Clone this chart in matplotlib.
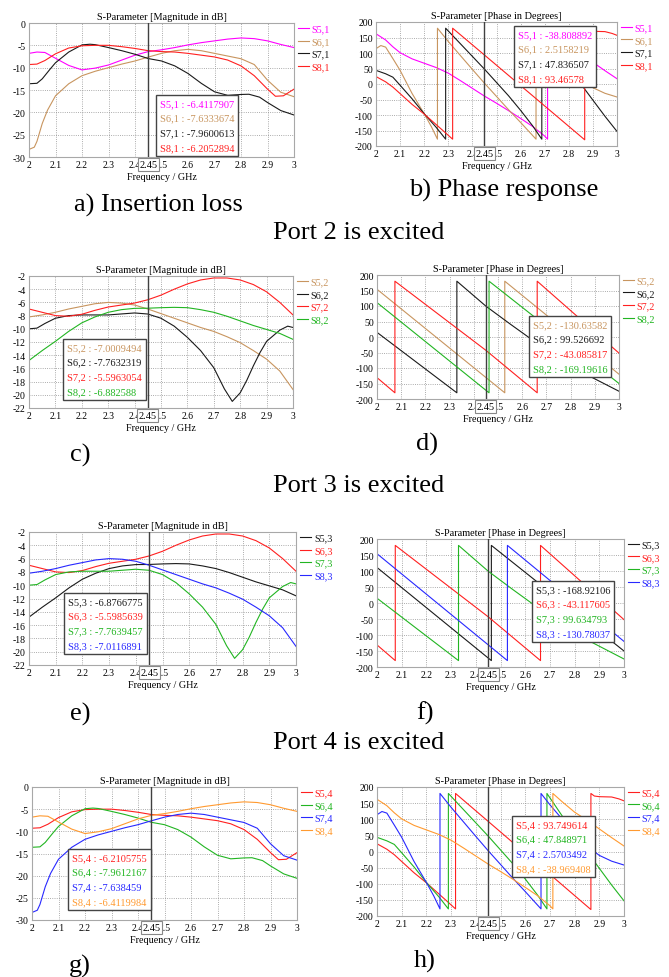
import matplotlib
matplotlib.use("Agg")
import matplotlib.pyplot as plt
from matplotlib.offsetbox import TextArea, VPacker, AnchoredOffsetbox

plt.rcParams["font.family"] = ["Liberation Serif", "DejaVu Serif"]
plt.rcParams["axes.unicode_minus"] = False

# --- colours ---
MAG = "#ff00ff"
TAN = "#c8955f"
BLK = "#1a1a1a"
RED = "#ff2020"
GRN = "#22b522"
BLU = "#2828ff"
ORG = "#ff9a30"

# --- magnitude curves (dB) ---
mA_f = [2.0, 2.03, 2.06, 2.1, 2.15, 2.2, 2.25, 2.3, 2.35, 2.4, 2.45, 2.5, 2.55, 2.6, 2.65, 2.7, 2.75, 2.8, 2.85, 2.9, 2.95, 3.0]
mA_v = [-6.8, -6.5, -6.6, -7.9, -9.5, -10.5, -10.1, -9.4, -8.3, -7.2, -6.4, -6.0, -5.5, -4.9, -4.4, -4.0, -3.6, -3.35, -3.5, -4.0, -4.8, -5.5]

mB_f = [2.0, 2.02, 2.03, 2.05, 2.07, 2.1, 2.15, 2.2, 2.25, 2.3, 2.35, 2.4, 2.45, 2.5, 2.55, 2.6, 2.65, 2.7, 2.75, 2.8, 2.85, 2.9, 2.95, 3.0]
mB_v = [-28.3, -27.8, -26.5, -22.5, -19.5, -16.3, -13.6, -11.8, -10.8, -10.0, -9.2, -8.5, -7.63, -6.8, -6.2, -5.9, -6.2, -6.8, -7.4, -8.0, -9.3, -12.8, -15.5, -16.5]

mC_f = [2.0, 2.03, 2.05, 2.08, 2.1, 2.15, 2.2, 2.23, 2.25, 2.3, 2.35, 2.4, 2.45, 2.5, 2.55, 2.6, 2.65, 2.7, 2.75, 2.8, 2.83, 2.87, 2.9, 2.95, 3.0]
mC_v = [-13.6, -13.5, -12.5, -10.3, -8.9, -6.5, -4.9, -4.75, -4.85, -5.5, -6.2, -7.0, -7.96, -8.5, -9.6, -11.3, -13.5, -15.4, -16.2, -16.0, -15.95, -16.6, -17.8, -19.6, -20.6]

mD_f = [2.0, 2.03, 2.06, 2.1, 2.15, 2.2, 2.25, 2.3, 2.35, 2.4, 2.45, 2.5, 2.55, 2.6, 2.65, 2.7, 2.75, 2.8, 2.85, 2.9, 2.93, 2.96, 3.0]
mD_v = [-9.3, -9.2, -8.4, -6.9, -5.6, -5.1, -5.0, -5.0, -5.3, -5.7, -6.2, -6.4, -6.5, -6.8, -7.2, -7.6, -8.3, -9.6, -11.8, -14.8, -16.4, -16.3, -14.8]

f_step = [2.0, 2.05, 2.1, 2.15, 2.2, 2.25, 2.3, 2.35, 2.4, 2.45, 2.5, 2.55, 2.6, 2.65, 2.7, 2.75, 2.8, 2.85, 2.9, 2.95, 3.0]
mE_v = [-8.2, -7.9, -7.5, -7.0, -6.6, -6.2, -6.0, -6.1, -6.4, -7.0, -7.7, -8.4, -9.1, -9.8, -10.4, -11.2, -12.1, -13.3, -14.6, -16.4, -19.2]

mF_f = [2.0, 2.03, 2.06, 2.1, 2.15, 2.2, 2.25, 2.3, 2.35, 2.4, 2.45, 2.5, 2.55, 2.6, 2.65, 2.7, 2.74, 2.77, 2.8, 2.825, 2.85, 2.875, 2.9, 2.95, 2.98, 3.0]
mF_v = [-10.0, -9.9, -9.2, -8.4, -8.0, -7.9, -7.9, -7.9, -7.75, -7.6, -7.76, -8.4, -9.6, -11.3, -13.3, -15.9, -19.1, -21.0, -19.7, -17.8, -15.6, -13.6, -11.9, -10.2, -9.6, -9.8]

mG_v = [-7.0, -7.5, -8.0, -8.1, -7.8, -7.2, -6.7, -6.4, -6.1, -5.6, -4.9, -4.0, -3.2, -2.6, -2.3, -2.3, -2.6, -3.3, -4.4, -6.0, -7.9]
mH_v = [-14.8, -13.3, -11.9, -10.4, -9.1, -8.2, -7.5, -7.1, -6.9, -6.88, -6.8, -6.75, -6.8, -7.1, -7.5, -8.1, -8.8, -9.5, -10.1, -10.7, -11.6]

# --- phase curves (degrees), repeated frequency = phase wrap ---
pA_f = [2.0, 2.04, 2.07, 2.1, 2.15, 2.2, 2.25, 2.3, 2.35, 2.4, 2.45, 2.5, 2.55, 2.6, 2.65, 2.7, 2.712, 2.712, 2.75, 2.8, 2.85, 2.9, 2.95, 3.0]
pA_v = [162, 142, 120, 101, 81, 67, 53, 35, 11, -14, -39, -62, -86, -111, -137, -168, -178, 180, 154, 122, 97, 70, 43, 17]

pB_f = [2.0, 2.02, 2.04, 2.07, 2.1, 2.15, 2.2, 2.23, 2.255, 2.255, 2.3, 2.35, 2.4, 2.45, 2.5, 2.55, 2.6, 2.664, 2.664, 2.7, 2.75, 2.8, 2.85, 2.9, 2.95, 3.0]
pB_v = [114, 124, 119, 82, 44, -31, -96, -138, -178, 180, 137, 92, 47, 2.5, -40, -83, -124, -178, 180, 145, 100, 57, 17, -12, -30, -42]

pC_f = [2.0, 2.04, 2.07, 2.1, 2.15, 2.2, 2.25, 2.289, 2.289, 2.35, 2.4, 2.45, 2.5, 2.55, 2.6, 2.65, 2.688, 2.688, 2.75, 2.8, 2.85, 2.9, 2.95, 3.0]
pC_v = [44, 33, 22, -4, -48, -96, -140, -178, 180, 130, 89, 48, 5, -38, -85, -135, -178, 180, 110, 55, 0, -52, -104, -153]

pD_f = [2.0, 2.04, 2.07, 2.1, 2.15, 2.2, 2.26, 2.318, 2.318, 2.45, 2.866, 2.866, 2.88, 2.9, 2.95, 2.98, 3.0]
pD_v = [24, 7, -10, -31, -66, -97, -138, -178, 180, 93.5, -180, 180, 172, 170, 169, 163, 157]

pE_f = [2.0, 2.528, 2.528, 3.0]
pE_v = [154, -180, 180, -120]

pF_f = [2.0, 2.33, 2.33, 2.45, 2.55, 2.625, 2.7, 2.8, 2.9, 2.95, 3.0]
pF_v = [15, -180, 180, 99.5, 42, 0, -42, -95, -135, -155, -175]

pG_f = [2.0, 2.074, 2.074, 2.45, 2.662, 2.662, 3.0]
pG_v = [-131, -180, 180, -43, -180, 180, -52]

pH_f = [2.0, 2.463, 2.463, 3.0]
pH_v = [111, -180, 180, -150]

# --- marker readouts at 2.45 GHz ---
read_a = ["S5,1 : -6.4117907", "S6,1 : -7.6333674", "S7,1 : -7.9600613", "S8,1 : -6.2052894"]
read_b = ["S5,1 : -38.808892", "S6,1 : 2.5158219", "S7,1 : 47.836507", "S8,1 : 93.46578"]
read_c = ["S5,2 : -7.0009494", "S6,2 : -7.7632319", "S7,2 : -5.5963054", "S8,2 : -6.882588"]
read_d = ["S5,2 : -130.63582", "S6,2 : 99.526692", "S7,2 : -43.085817", "S8,2 : -169.19616"]
read_e = ["S5,3 : -6.8766775", "S6,3 : -5.5985639", "S7,3 : -7.7639457", "S8,3 : -7.0116891"]
read_f = ["S5,3 : -168.92106", "S6,3 : -43.117605", "S7,3 : 99.634793", "S8,3 : -130.78037"]
read_g = ["S5,4 : -6.2105755", "S6,4 : -7.9612167", "S7,4 : -7.638459", "S8,4 : -6.4119984"]
read_h = ["S5,4 : 93.749614", "S6,4 : 47.848971", "S7,4 : 2.5703492", "S8,4 : -38.969408"]

labels_p1 = ["S5,1", "S6,1", "S7,1", "S8,1"]
labels_p2 = ["S5,2", "S6,2", "S7,2", "S8,2"]
labels_p3 = ["S5,3", "S6,3", "S7,3", "S8,3"]
labels_p4 = ["S5,4", "S6,4", "S7,4", "S8,4"]

mag_ticks_30 = [0, -5, -10, -15, -20, -25, -30]
mag_ticks_22 = [-2, -4, -6, -8, -10, -12, -14, -16, -18, -20, -22]
phase_ticks = [200, 150, 100, 50, 0, -50, -100, -150, -200]
x_ticks = [2, 2.1, 2.2, 2.3, 2.4, 2.5, 2.6, 2.7, 2.8, 2.9, 3]
x_ticklabels = ["2", "2.1", "2.2", "2.3", "2.4", "2.5", "2.6", "2.7", "2.8", "2.9", "3"]

W, H = 669, 978
fig = plt.figure(figsize=(W / 100, H / 100), dpi=100)

# panel: pixel rect (l, t, r, b), kind, curves, colours, labels, readouts, box anchor
panels = [
    ((29, 24, 294, 158), "mag30", [(mA_f, mA_v), (mB_f, mB_v), (mC_f, mC_v), (mD_f, mD_v)],
     [MAG, TAN, BLK, RED], labels_p1, read_a, (0.479, 0.463)),
    ((376, 23, 617, 147), "phase", [(pA_f, pA_v), (pB_f, pB_v), (pC_f, pC_v), (pD_f, pD_v)],
     [MAG, TAN, BLK, RED], labels_p1, read_b, (0.573, 0.968)),
    ((29, 277, 293, 409), "mag22", [(f_step, mE_v), (mF_f, mF_v), (f_step, mG_v), (f_step, mH_v)],
     [TAN, BLK, RED, GRN], labels_p2, read_c, (0.129, 0.523)),
    ((377, 276, 619, 400), "phase", [(pE_f, pE_v), (pF_f, pF_v), (pG_f, pG_v), (pH_f, pH_v)],
     [TAN, BLK, RED, GRN], labels_p2, read_d, (0.628, 0.669)),
    ((29, 533, 296, 666), "mag22", [(f_step, mH_v), (f_step, mG_v), (mF_f, mF_v), (f_step, mE_v)],
     [BLK, RED, GRN, BLU], labels_p3, read_e, (0.131, 0.541)),
    ((377, 540, 624, 668), "phase", [(pH_f, pH_v), (pG_f, pG_v), (pF_f, pF_v), (pE_f, pE_v)],
     [BLK, RED, GRN, BLU], labels_p3, read_f, (0.628, 0.672)),
    ((32, 788, 297, 921), "mag30", [(mD_f, mD_v), (mC_f, mC_v), (mB_f, mB_v), (mA_f, mA_v)],
     [RED, GRN, BLU, ORG], labels_p4, read_g, (0.136, 0.534)),
    ((377, 788, 624, 917), "phase", [(pD_f, pD_v), (pC_f, pC_v), (pB_f, pB_v), (pA_f, pA_v)],
     [RED, GRN, BLU, ORG], labels_p4, read_h, (0.547, 0.775)),
]

for (l, t, r, b), kind, curves, colors, labels, reads, (bx, by) in panels:
    ax = fig.add_axes([l / W, 1 - b / H, (r - l) / W, (b - t) / H])
    handles = []
    for (fx, fy), c, lab in zip(curves, colors, labels):
        ln, = ax.plot(fx, fy, color=c, lw=0.8, label=lab)
        handles.append(ln)

    if kind == "phase":
        ax.set_ylim(-200, 200)
        ax.set_yticks(phase_ticks)
        ax.set_title("S-Parameter [Phase in Degrees]", fontsize=7.4, pad=3)
    else:
        ticks = mag_ticks_30 if kind == "mag30" else mag_ticks_22
        ax.set_ylim(min(ticks), max(ticks))
        ax.set_yticks(ticks)
        ax.set_title("S-Parameter [Magnitude in dB]", fontsize=7.4, pad=3)
    ax.set_xlim(2, 3)
    ax.set_xticks(x_ticks)
    ax.set_xticklabels(x_ticklabels)
    ax.tick_params(length=0, labelsize=7.0, pad=2.3)
    ax.grid(True, ls=":", lw=0.6, color="#909090")
    for s in ax.spines.values():
        s.set_color("#a8a8a8")
        s.set_linewidth(0.8)
    ax.set_xlabel("Frequency / GHz", fontsize=7.3, labelpad=2.2)

    # marker line at 2.45 GHz
    ax.axvline(2.45, color="#404040", lw=1.0, zorder=4)
    ax.annotate("2.45", xy=(2.45, 0), xycoords=("data", "axes fraction"),
                xytext=(0, -5.4), textcoords="offset points", ha="center", va="center",
                fontsize=7.4, zorder=10, annotation_clip=False,
                bbox=dict(boxstyle="square,pad=0.15", fc="white", ec="#888888", lw=0.8))

    # readout box
    rows = [TextArea(s, textprops=dict(color=c, fontsize=7.5)) for s, c in zip(reads, colors)]
    pack = VPacker(children=rows, align="left", pad=0, sep=4.2)
    box = AnchoredOffsetbox(loc="upper left", child=pack, pad=0.28, borderpad=0, frameon=True,
                            bbox_to_anchor=(bx, by), bbox_transform=ax.transAxes)
    box.patch.set_boxstyle("square", pad=0)
    box.patch.set_edgecolor("#444444")
    box.patch.set_linewidth(1.0)
    box.set_zorder(6)
    ax.add_artist(box)

    ax.legend(handles=handles, loc="upper left", bbox_to_anchor=(1.015, 0.99), frameon=False,
              fontsize=7.4, handlelength=1.1, handletextpad=0.25, labelspacing=0.33,
              borderaxespad=0, borderpad=0, labelcolor="linecolor")

# captions
cap = dict(fontsize=19, ha="center", va="center")
fig.text(158 / W, 1 - 205 / H, "a) Insertion loss", **cap)
fig.text(504 / W, 1 - 190 / H, "b) Phase response", **cap)
fig.text(359 / W, 1 - 233 / H, "Port 2 is excited", **cap)
fig.text(80 / W, 1 - 455 / H, "c)", **cap)
fig.text(427 / W, 1 - 444 / H, "d)", **cap)
fig.text(359 / W, 1 - 486 / H, "Port 3 is excited", **cap)
fig.text(80 / W, 1 - 714 / H, "e)", **cap)
fig.text(425 / W, 1 - 713 / H, "f)", **cap)
fig.text(359 / W, 1 - 743 / H, "Port 4 is excited", **cap)
fig.text(80 / W, 1 - 966 / H, "g)", **cap)
fig.text(425 / W, 1 - 961 / H, "h)", **cap)

fig.savefig("out.png", dpi=100)
